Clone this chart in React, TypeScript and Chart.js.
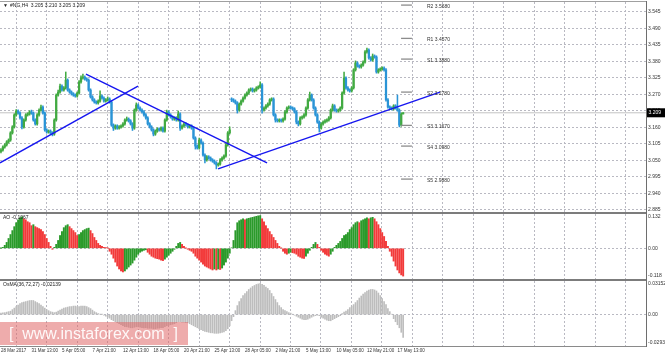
import React, { useEffect, useRef } from "react";
import { Chart, registerables } from "chart.js";
Chart.register(...registerables);

// ---------- data ----------
const timeLabels = ["28 Mar 2017","31 Mar 13:00","5 Apr 05:00","7 Apr 21:00","12 Apr 13:00","18 Apr 05:00","20 Apr 21:00","25 Apr 13:00","28 Apr 05:00","2 May 21:00","5 May 13:00","10 May 05:00","12 May 21:00","17 May 13:00"];
const labelBars = [0,16,32,48,64,80,96,112,128,144,160,176,192,208];
const priceTicks = [2.885,2.940,2.995,3.050,3.105,3.160,3.215,3.270,3.325,3.380,3.435,3.490,3.545];

const opens = [3.080,3.085,3.095,3.102,3.112,3.118,3.142,3.162,3.202,3.215,
3.208,3.192,3.162,3.185,3.202,3.205,3.212,3.208,3.185,3.172,
3.202,3.218,3.228,3.208,3.152,3.145,3.148,3.142,3.138,3.185,
3.268,3.278,3.298,3.285,3.292,3.318,3.285,3.278,3.272,3.268,
3.265,3.275,3.312,3.325,3.328,3.322,3.318,3.285,3.262,3.252,
3.245,3.242,3.248,3.265,3.258,3.248,3.252,3.255,3.245,3.168,
3.158,3.165,3.158,3.162,3.165,3.172,3.185,3.188,3.182,3.172,
3.158,3.218,3.235,3.225,3.218,3.212,3.202,3.192,3.172,3.162,
3.152,3.138,3.148,3.155,3.152,3.158,3.148,3.185,3.212,3.202,
3.195,3.188,3.192,3.185,3.205,3.158,3.165,3.172,3.168,3.162,
3.165,3.158,3.125,3.098,3.092,3.118,3.108,3.068,3.052,3.062,
3.058,3.052,3.048,3.042,3.035,3.038,3.052,3.058,3.065,3.102,
3.142,3.255,3.252,3.248,3.242,3.218,3.238,3.248,3.258,3.268,
3.275,3.285,3.288,3.282,3.285,3.292,3.295,3.302,3.218,3.225,
3.232,3.238,3.252,3.255,3.202,3.185,3.182,3.185,3.182,3.188,
3.212,3.225,3.228,3.225,3.222,3.212,3.178,3.172,3.192,3.195,
3.202,3.225,3.252,3.268,3.252,3.225,3.202,3.178,3.158,3.172,
3.178,3.182,3.185,3.192,3.218,3.232,3.218,3.215,3.218,3.225,
3.275,3.325,3.292,3.285,3.282,3.292,3.352,3.375,3.365,3.362,
3.368,3.378,3.412,3.418,3.392,3.385,3.398,3.395,3.345,3.352,
3.355,3.358,3.352,3.252,3.228,3.225,3.222,3.232,3.225,3.218,
3.168,3.205];
const highs = [3.090,3.099,3.106,3.116,3.122,3.146,3.166,3.206,3.220,3.219,
3.212,3.196,3.189,3.206,3.209,3.216,3.218,3.212,3.189,3.206,
3.222,3.235,3.232,3.212,3.156,3.152,3.152,3.146,3.189,3.272,
3.285,3.305,3.302,3.296,3.345,3.322,3.289,3.282,3.276,3.272,
3.279,3.316,3.332,3.338,3.332,3.326,3.322,3.289,3.266,3.256,
3.249,3.252,3.282,3.269,3.262,3.256,3.262,3.259,3.249,3.172,
3.169,3.169,3.166,3.169,3.176,3.189,3.195,3.192,3.186,3.176,
3.222,3.242,3.239,3.229,3.222,3.216,3.206,3.196,3.176,3.166,
3.156,3.152,3.159,3.159,3.162,3.162,3.189,3.218,3.216,3.206,
3.199,3.196,3.196,3.215,3.209,3.169,3.176,3.176,3.172,3.169,
3.169,3.162,3.129,3.102,3.125,3.122,3.112,3.072,3.066,3.066,
3.062,3.056,3.052,3.046,3.042,3.056,3.062,3.069,3.106,3.146,
3.162,3.259,3.256,3.252,3.246,3.242,3.252,3.262,3.272,3.279,
3.289,3.292,3.292,3.289,3.296,3.299,3.312,3.306,3.229,3.236,
3.242,3.256,3.259,3.259,3.206,3.189,3.189,3.189,3.192,3.216,
3.229,3.232,3.232,3.229,3.226,3.216,3.182,3.196,3.199,3.206,
3.229,3.256,3.278,3.272,3.256,3.229,3.206,3.182,3.176,3.182,
3.186,3.189,3.196,3.222,3.238,3.236,3.222,3.222,3.229,3.279,
3.345,3.329,3.296,3.289,3.296,3.356,3.382,3.379,3.369,3.372,
3.382,3.416,3.425,3.422,3.396,3.405,3.402,3.399,3.356,3.359,
3.362,3.362,3.356,3.256,3.232,3.229,3.236,3.236,3.268,3.222,
3.209,3.210];
const lows = [3.075,3.081,3.091,3.098,3.108,3.114,3.138,3.158,3.198,3.204,
3.188,3.155,3.158,3.181,3.198,3.201,3.204,3.181,3.168,3.168,
3.198,3.214,3.204,3.148,3.141,3.141,3.138,3.132,3.134,3.181,
3.264,3.274,3.281,3.281,3.288,3.281,3.274,3.268,3.264,3.261,
3.261,3.271,3.308,3.321,3.318,3.314,3.281,3.258,3.248,3.241,
3.238,3.238,3.244,3.254,3.244,3.244,3.248,3.241,3.164,3.150,
3.154,3.154,3.154,3.158,3.161,3.168,3.181,3.178,3.168,3.150,
3.154,3.214,3.221,3.214,3.208,3.198,3.188,3.168,3.158,3.148,
3.132,3.134,3.144,3.148,3.148,3.144,3.144,3.181,3.198,3.191,
3.184,3.184,3.181,3.181,3.150,3.154,3.161,3.164,3.158,3.158,
3.154,3.121,3.088,3.088,3.088,3.104,3.064,3.042,3.048,3.054,
3.048,3.044,3.038,3.022,3.031,3.034,3.048,3.054,3.061,3.098,
3.138,3.246,3.244,3.238,3.208,3.214,3.234,3.244,3.254,3.264,
3.271,3.281,3.278,3.278,3.281,3.288,3.291,3.208,3.214,3.221,
3.228,3.234,3.248,3.198,3.178,3.178,3.178,3.178,3.178,3.184,
3.208,3.221,3.221,3.218,3.208,3.172,3.165,3.168,3.188,3.191,
3.198,3.221,3.248,3.248,3.221,3.198,3.174,3.145,3.154,3.168,
3.174,3.178,3.181,3.188,3.214,3.214,3.211,3.211,3.214,3.221,
3.271,3.288,3.281,3.278,3.278,3.288,3.348,3.361,3.358,3.358,
3.364,3.374,3.408,3.388,3.381,3.381,3.391,3.341,3.341,3.348,
3.351,3.348,3.248,3.224,3.221,3.218,3.218,3.221,3.214,3.162,
3.164,3.205];
const closes = [3.085,3.095,3.102,3.112,3.118,3.142,3.162,3.202,3.215,3.208,
3.192,3.162,3.185,3.202,3.205,3.212,3.208,3.185,3.172,3.202,
3.218,3.228,3.208,3.152,3.145,3.148,3.142,3.138,3.185,3.268,
3.278,3.298,3.285,3.292,3.318,3.285,3.278,3.272,3.268,3.265,
3.275,3.312,3.325,3.328,3.322,3.318,3.285,3.262,3.252,3.245,
3.242,3.248,3.265,3.258,3.248,3.252,3.255,3.245,3.168,3.158,
3.165,3.158,3.162,3.165,3.172,3.185,3.188,3.182,3.172,3.158,
3.218,3.235,3.225,3.218,3.212,3.202,3.192,3.172,3.162,3.152,
3.138,3.148,3.155,3.152,3.158,3.148,3.185,3.212,3.202,3.195,
3.188,3.192,3.185,3.205,3.158,3.165,3.172,3.168,3.162,3.165,
3.158,3.125,3.098,3.092,3.118,3.108,3.068,3.052,3.062,3.058,
3.052,3.048,3.042,3.035,3.038,3.052,3.058,3.065,3.102,3.142,
3.152,3.252,3.248,3.242,3.218,3.238,3.248,3.258,3.268,3.275,
3.285,3.288,3.282,3.285,3.292,3.295,3.302,3.218,3.225,3.232,
3.238,3.252,3.255,3.202,3.185,3.182,3.185,3.182,3.188,3.212,
3.225,3.228,3.225,3.222,3.212,3.178,3.172,3.192,3.195,3.202,
3.225,3.252,3.268,3.252,3.225,3.202,3.178,3.158,3.172,3.178,
3.182,3.185,3.192,3.218,3.232,3.218,3.215,3.218,3.225,3.275,
3.325,3.292,3.285,3.282,3.292,3.352,3.375,3.365,3.362,3.368,
3.378,3.412,3.418,3.392,3.385,3.398,3.395,3.345,3.352,3.355,
3.358,3.352,3.252,3.228,3.225,3.222,3.232,3.225,3.218,3.168,
3.205,3.209];

const aoValues = [0.0008,0.0038,0.0114,0.0227,0.0379,0.0530,0.0682,0.0833,0.0985,0.1098,
0.1174,0.1212,0.1136,0.1098,0.1023,0.0985,0.0871,0.0909,0.0833,0.0795,
0.0758,0.0720,0.0644,0.0530,0.0379,0.0227,0.0076,-0.0038,0.0038,0.0152,
0.0303,0.0492,0.0644,0.0795,0.0871,0.0909,0.0833,0.0758,0.0682,0.0606,
0.0492,0.0530,0.0606,0.0682,0.0720,0.0758,0.0777,0.0682,0.0568,0.0417,
0.0303,0.0189,0.0114,0.0076,0.0038,0.0030,0.0004,-0.0114,-0.0227,-0.0379,
-0.0530,-0.0682,-0.0795,-0.0871,-0.0909,-0.0871,-0.0795,-0.0720,-0.0644,-0.0568,
-0.0455,-0.0341,-0.0227,-0.0152,-0.0114,-0.0076,-0.0057,-0.0152,-0.0227,-0.0303,
-0.0341,-0.0379,-0.0398,-0.0417,-0.0455,-0.0473,-0.0417,-0.0341,-0.0265,-0.0189,
-0.0114,-0.0038,0.0076,0.0189,0.0227,0.0152,0.0076,0.0004,-0.0038,-0.0076,
-0.0114,-0.0189,-0.0303,-0.0379,-0.0455,-0.0530,-0.0606,-0.0682,-0.0720,-0.0758,
-0.0795,-0.0833,-0.0795,-0.0833,-0.0795,-0.0814,-0.0758,-0.0644,-0.0530,-0.0379,
-0.0189,0.0019,0.0303,0.0682,0.0985,0.1061,0.1098,0.1136,0.1098,0.1136,
0.1155,0.1174,0.1193,0.1212,0.1231,0.1250,0.1258,0.1136,0.1023,0.0871,
0.0758,0.0644,0.0530,0.0417,0.0303,0.0189,0.0076,0.0011,-0.0114,-0.0189,
-0.0227,-0.0189,-0.0152,-0.0170,-0.0189,-0.0227,-0.0303,-0.0341,-0.0379,-0.0390,
-0.0303,-0.0189,-0.0076,0.0038,0.0152,0.0227,0.0152,0.0038,-0.0076,-0.0152,
-0.0227,-0.0265,-0.0303,-0.0227,-0.0114,0.0038,0.0114,0.0189,0.0265,0.0379,
0.0492,0.0530,0.0606,0.0720,0.0795,0.0909,0.0985,0.1023,0.0985,0.1061,
0.1098,0.1136,0.1174,0.1136,0.1174,0.1193,0.1136,0.1023,0.0909,0.0758,
0.0606,0.0455,0.0265,0.0076,-0.0114,-0.0303,-0.0492,-0.0682,-0.0833,-0.0947,
-0.1023,-0.1067];

const osmaValues = [0.00142,0.00170,0.00189,0.00236,0.00283,0.00330,0.00472,0.00613,0.00755,0.00896,
0.01038,0.01132,0.01179,0.01226,0.01274,0.01321,0.01330,0.01325,0.01226,0.01132,
0.01038,0.00896,0.00755,0.00613,0.00472,0.00377,0.00283,0.00236,0.00189,0.00236,
0.00330,0.00425,0.00519,0.00613,0.00660,0.00708,0.00755,0.00760,0.00802,0.00805,
0.00755,0.00758,0.00802,0.00806,0.00800,0.00755,0.00660,0.00566,0.00425,0.00283,
0.00189,0.00094,0.00047,0.00028,-0.00047,-0.00142,-0.00236,-0.00330,-0.00472,-0.00566,
-0.00660,-0.00755,-0.00849,-0.00943,-0.01038,-0.01132,-0.01135,-0.01179,-0.01226,-0.01230,
-0.01179,-0.01132,-0.01140,-0.01179,-0.01226,-0.01232,-0.01228,-0.01274,-0.01278,-0.01280,
-0.01321,-0.01318,-0.01274,-0.01270,-0.01226,-0.01222,-0.01132,-0.01038,-0.00991,-0.00943,
-0.00896,-0.00849,-0.00755,-0.00660,-0.00665,-0.00708,-0.00712,-0.00755,-0.00760,-0.00849,
-0.00943,-0.01038,-0.01132,-0.01226,-0.01321,-0.01415,-0.01509,-0.01557,-0.01604,-0.01651,
-0.01698,-0.01702,-0.01745,-0.01748,-0.01742,-0.01698,-0.01651,-0.01604,-0.01509,-0.01321,
-0.01038,-0.00566,-0.00189,0.00377,0.00849,0.01226,0.01509,0.01792,0.01981,0.02170,
0.02358,0.02500,0.02642,0.02736,0.02830,0.02877,0.02925,0.02830,0.02736,0.02594,
0.02453,0.02264,0.01981,0.01698,0.01415,0.01132,0.00849,0.00660,0.00472,0.00377,
0.00283,0.00189,0.00142,0.00047,-0.00047,-0.00142,-0.00236,-0.00330,-0.00425,-0.00472,
-0.00475,-0.00425,-0.00330,-0.00236,-0.00142,-0.00094,-0.00047,-0.00094,-0.00236,-0.00330,
-0.00425,-0.00519,-0.00566,-0.00570,-0.00472,-0.00377,-0.00283,-0.00189,-0.00094,0.00094,
0.00236,0.00330,0.00472,0.00660,0.00802,0.00943,0.01132,0.01321,0.01557,0.01745,
0.01934,0.02075,0.02217,0.02311,0.02358,0.02362,0.02311,0.02217,0.02028,0.01792,
0.01509,0.01226,0.00943,0.00566,0.00283,0.00047,-0.00377,-0.00660,-0.00943,-0.01226,
-0.01651,-0.02139];

// drawn objects: trend lines [[bar, price], [bar, price]]
const trendLines = [
  [[-0.5, 3.042], [71.9, 3.298]],
  [[44.6, 3.338], [139.6, 3.042]],
  [[113.9, 3.022], [230.3, 3.278]],
];
const pivotNames = ["R2", "R1", "S1", "S2", "S3", "S4", "S5"];
const pivotLevels = [3.568, 3.457, 3.388, 3.278, 3.167, 3.098, 2.988];

const aoAxisValues = [0.132, 0, -0.118];
const osmaAxisValues = [0.03152, 0, -0.02933];

// ---------- styling ----------
const X_MIN = -0.5;
const X_MAX = 338.4;
const Y_MIN = 2.8783;
const Y_MAX = 3.5783;
const PIVOT_FROM = 209.9;
const PIVOT_TO = 215.6;
const PIVOT_LABEL_BAR = 223.5;
const GRID = "#b9b9c2";
const UP = "#42aa42";
const DOWN = "#2a94d6";
const AO_UP = "#2a9a2a";
const AO_DOWN = "#f23a3a";
const FONT_FAMILY = '"Liberation Sans", Arial, sans-serif';
const FONT = { size: 5, family: FONT_FAMILY };
const gridBars = Array.from({ length: 21 }, (_, k) => 7.9 + 16 * k);

function xGridScale(): any {
  return {
    type: "linear", min: X_MIN, max: X_MAX, offset: false, bounds: "data",
    afterBuildTicks: (s: any) => { s.ticks = gridBars.map((v) => ({ value: v })); },
    afterFit: (s: any) => { s.height = 0; s.paddingLeft = 0; s.paddingRight = 0; },
    ticks: { display: false },
    grid: { offset: false, color: GRID, drawTicks: false, lineWidth: 1 },
    border: { display: false, dash: [2, 2] },
  };
}

function subYScale(min: number, max: number, vals: number[], digits: number, paneH: number): any {
  const inset = (3 * (max - min)) / paneH;
  const pos = vals.map((v) => (v === max ? v - inset : v === min ? v + inset : v));
  return {
    position: "right", min, max, bounds: "data",
    afterBuildTicks: (s: any) => { s.ticks = pos.map((v) => ({ value: v })); },
    afterFit: (s: any) => { s.width = 19; s.paddingTop = 0; s.paddingBottom = 0; },
    ticks: {
      font: FONT, color: "#333", padding: 2, autoSkip: false,
      callback: (_v: any, i: number) => (vals[i] === 0 ? "0.00" : vals[i].toFixed(digits)),
    },
    grid: { drawTicks: false, color: (c: any) => (c.tick && c.tick.value === 0 ? GRID : "rgba(0,0,0,0)") },
    border: { display: false, dash: [2, 2] },
  };
}

export default function App() {
  const mainRef = useRef<HTMLCanvasElement>(null);
  const aoRef = useRef<HTMLCanvasElement>(null);
  const osRef = useRef<HTMLCanvasElement>(null);

  useEffect(() => {
    const last = closes.length - 1;
    const candleColors = closes.map((c, i) => (c >= opens[i] ? UP : DOWN));

    const mainText = {
      id: "mainText",
      afterDraw(chart: any) {
        const ctx = chart.ctx;
        const xs = chart.scales.x;
        const ys = chart.scales.y;
        const area = chart.chartArea;
        ctx.save();
        ctx.font = `5px ${FONT_FAMILY}`;
        ctx.textBaseline = "middle";
        ctx.fillStyle = "#222";
        ctx.fillText("\u25BC", 3, 5.5);
        ctx.fillText(
          `#NG,H4  ${opens[last].toFixed(3)} ${highs[last].toFixed(3)} ${lows[last].toFixed(3)} ${closes[last].toFixed(3)}`,
          10, 5.5
        );
        ctx.fillStyle = "#333";
        pivotNames.forEach((n, i) => {
          ctx.fillText(`${n} ${pivotLevels[i].toFixed(4)}`, xs.getPixelForValue(PIVOT_LABEL_BAR), ys.getPixelForValue(pivotLevels[i]) + 1.5);
        });
        const py = ys.getPixelForValue(closes[last]);
        ctx.fillStyle = "#000";
        ctx.fillRect(area.right + 1, py - 4.5, 19, 9);
        ctx.fillStyle = "#fff";
        ctx.fillText(closes[last].toFixed(3), area.right + 2.5, py);
        ctx.restore();
      },
    };

    const main = new Chart(mainRef.current as HTMLCanvasElement, {
      type: "bar",
      data: {
        datasets: [
          {
            type: "line", order: 3, xAxisID: "x", yAxisID: "y",
            data: [{ x: X_MIN, y: closes[last] }, { x: X_MAX, y: closes[last] }],
            borderColor: "#c4c4c4", borderWidth: 1, pointRadius: 0,
          } as any,
          {
            order: 2, xAxisID: "x", yAxisID: "y",
            data: closes.map((_, i) => ({ x: i, y: [lows[i], highs[i]] })),
            backgroundColor: candleColors, barThickness: 0.9, grouped: false,
          } as any,
          {
            order: 1, xAxisID: "x", yAxisID: "y",
            data: closes.map((c, i) => ({ x: i, y: [opens[i], c] })),
            backgroundColor: candleColors, barThickness: 1.6, grouped: false, minBarLength: 1,
          } as any,
          ...trendLines.map((t) => ({
            type: "line", order: 0, xAxisID: "x", yAxisID: "y",
            data: t.map((p) => ({ x: p[0], y: p[1] })),
            borderColor: "#1616f0", borderWidth: 1.4, pointRadius: 0,
          }) as any),
          ...pivotLevels.map((v) => ({
            type: "line", order: 0, xAxisID: "x", yAxisID: "y",
            data: [{ x: PIVOT_FROM, y: v }, { x: PIVOT_TO, y: v }],
            borderColor: "#8c8c8c", borderWidth: 1.3, pointRadius: 0,
          }) as any),
        ],
      },
      options: {
        animation: false, responsive: false, maintainAspectRatio: false,
        layout: { padding: { top: 2, left: 0, right: 0, bottom: 0 } },
        plugins: { legend: { display: false }, tooltip: { enabled: false } },
        scales: {
          x: xGridScale(),
          y: {
            position: "right", min: Y_MIN, max: Y_MAX, bounds: "data",
            afterBuildTicks: (s: any) => { s.ticks = priceTicks.map((v) => ({ value: v })); },
            afterFit: (s: any) => { s.width = 19; s.paddingTop = 0; s.paddingBottom = 0; },
            ticks: { font: FONT, color: "#333", padding: 2, autoSkip: false, callback: (v: any) => Number(v).toFixed(3) },
            grid: { color: GRID, drawTicks: false },
            border: { display: false, dash: [2, 2] },
          } as any,
        },
      },
      plugins: [mainText],
    } as any);

    const aoText = {
      id: "aoText",
      afterDraw(chart: any) {
        const ctx = chart.ctx;
        ctx.save();
        ctx.font = `5px ${FONT_FAMILY}`;
        ctx.textBaseline = "middle";
        ctx.fillStyle = "#222";
        ctx.fillText(`AO ${aoValues[aoValues.length - 1].toFixed(4)}`, 3, 3.5);
        ctx.restore();
      },
    };
    const aoColors = aoValues.map((v, i) => (i === 0 || v >= aoValues[i - 1] ? AO_UP : AO_DOWN));
    const ao = new Chart(aoRef.current as HTMLCanvasElement, {
      type: "bar",
      data: {
        datasets: [{
          xAxisID: "x", yAxisID: "y",
          data: aoValues.map((v, i) => ({ x: i, y: v })),
          backgroundColor: aoColors, barThickness: 1.3,
        } as any],
      },
      options: {
        animation: false, responsive: false, maintainAspectRatio: false,
        layout: { padding: 0 },
        plugins: { legend: { display: false }, tooltip: { enabled: false } },
        scales: { x: xGridScale(), y: subYScale(-0.118, 0.132, aoAxisValues, 3, 65) },
      },
      plugins: [aoText],
    } as any);

    const osText = {
      id: "osText",
      afterDraw(chart: any) {
        const ctx = chart.ctx;
        ctx.save();
        ctx.font = `5px ${FONT_FAMILY}`;
        ctx.textBaseline = "middle";
        ctx.fillStyle = "#222";
        ctx.fillText(`OsMA(36,72,27) ${osmaValues[osmaValues.length - 1].toFixed(5)}`, 3, 4);
        ctx.restore();
      },
    };
    const osma = new Chart(osRef.current as HTMLCanvasElement, {
      type: "bar",
      data: {
        datasets: [{
          xAxisID: "x", yAxisID: "y",
          data: osmaValues.map((v, i) => ({ x: i, y: v })),
          backgroundColor: "#bdbdbd", barThickness: 1,
        } as any],
      },
      options: {
        animation: false, responsive: false, maintainAspectRatio: false,
        layout: { padding: 0 },
        plugins: { legend: { display: false }, tooltip: { enabled: false } },
        scales: {
          x: xGridScale(),
          xt: {
            type: "linear", position: "bottom", min: X_MIN, max: X_MAX, offset: false, bounds: "data",
            afterBuildTicks: (s: any) => { s.ticks = labelBars.map((v) => ({ value: v })); },
            afterFit: (s: any) => { s.height = 10; s.paddingLeft = 0; s.paddingRight = 0; },
            ticks: {
              font: { size: 4.5, family: FONT_FAMILY }, color: "#333", padding: 1.8, align: "start", autoSkip: false,
              maxRotation: 0, minRotation: 0,
              callback: (_v: any, i: number) => timeLabels[i],
            },
            grid: { display: false, drawTicks: false },
            border: { display: false },
          },
          y: subYScale(-0.02933, 0.03152, osmaAxisValues, 5, 65),
        },
      },
      plugins: [osText],
    } as any);

    return () => { main.destroy(); ao.destroy(); osma.destroy(); };
  }, []);

  const line = (top: number, h: number, color: string) => (
    <div style={{ position: "absolute", left: 0, top, width: 647, height: h, background: color }} />
  );

  return (
    <div style={{ position: "fixed", left: 0, top: 0, width: 665, height: 356, background: "#fff", overflow: "hidden" }}>
      <canvas ref={mainRef} width={665} height={212} style={{ position: "absolute", left: 0, top: 0 }} />
      <canvas ref={aoRef} width={665} height={65} style={{ position: "absolute", left: 0, top: 214 }} />
      <canvas ref={osRef} width={665} height={75} style={{ position: "absolute", left: 0, top: 281 }} />
      {line(1, 1, "#a0a0a0")}
      {line(212, 2, "#7c7c7c")}
      {line(279, 2, "#7c7c7c")}
      {line(346, 1, "#8a8a8a")}
      <div style={{ position: "absolute", left: 646, top: 1, width: 1, height: 346, background: "#6e6e6e" }} />
      <div style={{
        position: "absolute", left: 0, top: 322, width: 188, height: 23,
        background: "rgba(224,104,104,0.55)", color: "rgba(255,255,255,0.92)",
        fontFamily: FONT_FAMILY, fontSize: 16, lineHeight: "23px", whiteSpace: "pre", overflow: "hidden",
      }}>{"  [  www.instaforex.com  ]"}</div>
    </div>
  );
}
